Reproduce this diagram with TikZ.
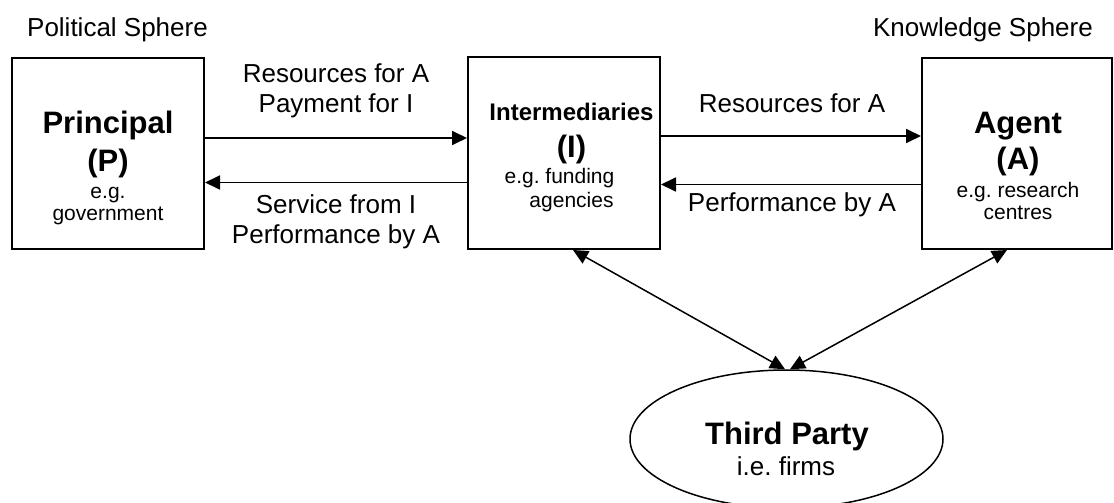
\documentclass[tikz,border=0pt]{standalone}
\usepackage{fontspec}
\setmainfont{Liberation Sans}
\frenchspacing
\usetikzlibrary{arrows.meta,shapes.geometric}
\begin{document}
\begin{tikzpicture}[x=1pt,y=-1pt,
  box/.style={draw, line width=2pt, minimum width=192pt, minimum height=191pt, inner sep=0pt},
  party/.style={draw, ellipse, line width=1.5pt, minimum width=313pt, minimum height=138pt, inner sep=0pt},
  flow/.style={line width=1.8pt, -{Triangle[length=15pt,width=14pt]}},
  link/.style={line width=1.5pt, {Triangle[length=15pt,width=14pt]}-{Triangle[length=15pt,width=14pt]}},
  txt/.style={anchor=base, inner sep=0pt, font=\fontsize{26}{30}\selectfont},
  head/.style={anchor=base, inner sep=0pt, font=\fontsize{31}{36}\selectfont\bfseries},
  subhead/.style={anchor=base, inner sep=0pt, font=\fontsize{24}{28}\selectfont\bfseries},
  small/.style={anchor=base, inner sep=0pt, font=\fontsize{21}{24}\selectfont},
]
\useasboundingbox (0,0) rectangle (1114,503);

% the three actors and the third party
\node[box] (P) at (108,153.5) {};
\node[box, minimum height=192pt] (I) at (564,153) {};
\node[box, minimum width=190pt] (A) at (1017,153.5) {};
\node[party] (T) at (786.5,439) {};

% sphere captions
\node[txt] (ps) at (117.5,37) {Political Sphere};
\node[txt] (ks) at (983,37) {Knowledge Sphere};

% principal
\node[head] (p1) at (108,133) {Principal};
\node[head] (p2) at (108,171) {(P)};
\node[small] (p3) at (108,198) {e.g.};
\node[small] (p4) at (108,220) {government};

% intermediaries
\node[subhead] (i1) at (571.5,121) {Intermediaries};
\node[head] (i2) at (571.5,157) {(I)};
\node[small] (i3) at (559.5,183) {e.g. funding};
\node[small] (i4) at (571.5,207) {agencies};

% agent
\node[head] (a1) at (1018,133) {Agent};
\node[head] (a2) at (1018,169) {(A)};
\node[small] (a3) at (1018,197) {e.g. research};
\node[small] (a4) at (1018,219) {centres};

% third party
\node[head] (t1) at (787,444) {Third Party};
\node[txt] (t2) at (786,475) {i.e. firms};

% flow labels
\node[txt] (l1) at (336,83) {Resources for A};
\node[txt] (l2) at (336,112) {Payment for I};
\node[txt] (l3) at (336,213) {Service from I};
\node[txt] (l4) at (336,243) {Performance by A};
\node[txt] (l5) at (792,112) {Resources for A};
\node[txt] (l6) at (792,211) {Performance by A};

% flows between the actors
\draw[flow] ([yshift=15.5pt]P.east) -- ([yshift=15.5pt]P.east -| I.west);
\draw[flow] ([yshift=-29.5pt]I.west) -- ([yshift=-29.5pt]I.west -| P.east);
\draw[flow] ([yshift=17pt]I.east) -- ([yshift=17pt]I.east -| A.west);
\draw[flow] ([yshift=-31pt]A.west) -- ([yshift=-31pt]A.west -| I.east);

% links to the third party
\draw[link] ([xshift=9pt]I.south) -- ([xshift=-1.5pt]T.north);
\draw[link] ([xshift=-10pt]A.south) -- ([xshift=3.5pt]T.north);
\end{tikzpicture}
\end{document}
